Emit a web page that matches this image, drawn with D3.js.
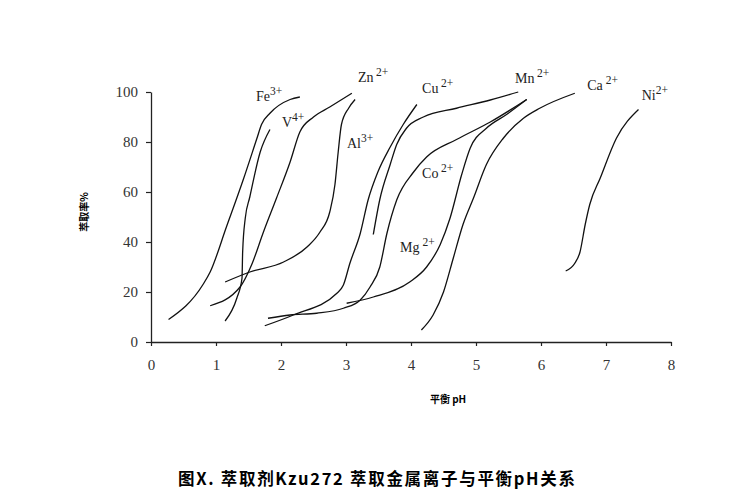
<!DOCTYPE html>
<html>
<head>
<meta charset="utf-8">
<script src="https://cdnjs.cloudflare.com/ajax/libs/d3/7.8.5/d3.min.js"></script>
<style>
  body { margin: 0; background: #fff; }
  svg { display: block; }
</style>
</head>
<body>
<script>
// curve data: equilibrium pH and extraction rate (%)
var phFe = [0.27, 0.80, 0.91, 1.16, 1.42, 1.63, 1.70, 1.83, 2.14, 2.29];
var rateFe = [9, 23, 28, 46, 65, 81.5, 87, 91.5, 97, 98];

var phV = [1.14, 1.32, 1.40, 1.41, 1.45, 1.52, 1.68, 1.83];
var rateV = [8.4, 17.5, 25.5, 36, 49.5, 58, 76, 85];

var phZn = [0.91, 1.37, 1.55, 1.73, 1.93, 2.14, 2.29, 2.50, 2.75, 3.09];
var rateZn = [14.5, 22, 31, 44, 57.5, 72, 84, 90, 94, 99.5];

var phAl = [1.14, 1.52, 2.04, 2.40, 2.60, 2.75, 2.83, 2.88, 2.93, 3.04, 3.14];
var rateAl = [24, 28, 32, 38, 44, 52, 63, 76, 87, 93.5, 97];

var phCu = [1.75, 2.19, 2.86, 2.96, 3.06, 3.22, 3.34, 3.49, 3.68, 3.88, 4.09];
var rateCu = [6.5, 10.8, 19.5, 22.8, 31.5, 43.5, 56.8, 68, 78, 87, 95];

var phMn = [3.42, 3.52, 3.68, 3.78, 3.93, 4.19, 4.70, 5.22, 5.65];
var rateMn = [43, 57, 71, 79, 85.5, 90, 93.5, 96.8, 100];

var phCo = [1.80, 2.14, 2.55, 2.96, 3.22, 3.37, 3.52, 3.63, 3.78, 4.04, 4.24, 4.70, 5.22, 5.78];
var rateCo = [9.5, 10.8, 11.5, 13.5, 16.8, 22, 30, 43.5, 56.8, 68, 74, 81, 88, 97];

var phMg = [3.01, 3.42, 3.98, 4.24, 4.45, 4.60, 4.78, 4.91, 5.16, 5.47, 5.78];
var rateMg = [15.5, 18, 24, 30, 39, 49.5, 67, 77.5, 85.5, 91, 97];

var phCa = [4.16, 4.34, 4.50, 4.65, 4.80, 4.96, 5.16, 5.42, 5.73, 5.98, 6.52];
var rateCa = [4.8, 10.8, 20, 33.5, 47, 57.5, 71, 81.5, 89.5, 93.5, 99.5];

var phNi = [6.38, 6.52, 6.60, 6.68, 6.75, 6.91, 7.16, 7.50];
var rateNi = [28.4, 31.5, 36, 47, 55, 65.5, 81.5, 93];

var xTicks = [0, 1, 2, 3, 4, 5, 6, 7, 8];
var yTicks = [0, 20, 40, 60, 80, 100];

var series = [
  { ion: 'Fe', charge: '3+', ph: phFe, rate: rateFe },
  { ion: 'V', charge: '4+', ph: phV, rate: rateV },
  { ion: 'Zn', charge: '2+', ph: phZn, rate: rateZn },
  { ion: 'Al', charge: '3+', ph: phAl, rate: rateAl },
  { ion: 'Cu', charge: '2+', ph: phCu, rate: rateCu },
  { ion: 'Mn', charge: '2+', ph: phMn, rate: rateMn },
  { ion: 'Co', charge: '2+', ph: phCo, rate: rateCo },
  { ion: 'Mg', charge: '2+', ph: phMg, rate: rateMg },
  { ion: 'Ca', charge: '2+', ph: phCa, rate: rateCa },
  { ion: 'Ni', charge: '2+', ph: phNi, rate: rateNi }
];

// where each ion label sits (pH, rate of baseline start) and gap before the charge
var labelSpots = {
  Fe: [1.615, 96.4, 0], V: [2.015, 86, 0], Zn: [3.185, 104, 2.5], Al: [3.015, 77.6, 0],
  Cu: [4.17, 99.6, 2.5], Mn: [5.6, 103.6, 2.5], Co: [4.17, 65.6, 2.5], Mg: [3.83, 36, 3],
  Ca: [6.71, 100.8, 3], Ni: [7.55, 96.8, 0]
};

var width = 744, height = 502;
var margin = { top: 92, left: 151, right: 73, bottom: 160 };

var svg = d3.select('body').append('svg')
  .attr('width', width).attr('height', height);

var x = d3.scaleLinear().domain([0, 8]).range([margin.left, width - margin.right]);
var y = d3.scaleLinear().domain([0, 100]).range([height - margin.bottom, margin.top]);

var serif = '"Liberation Serif", "Times New Roman", serif';

// axes
var xAxis = svg.append('g')
  .attr('transform', 'translate(0,' + y(0) + ')')
  .call(d3.axisBottom(x).tickValues(xTicks).tickSize(4).tickSizeOuter(0).tickPadding(13));

var yAxis = svg.append('g')
  .attr('transform', 'translate(' + x(0) + ',0)')
  .call(d3.axisLeft(y).tickValues(yTicks).tickSize(5).tickSizeOuter(0).tickPadding(8));

[xAxis, yAxis].forEach(function (g) {
  g.select('.domain').attr('stroke', '#222').attr('stroke-width', 1.3);
  g.selectAll('.tick line').attr('stroke', '#222').attr('stroke-width', 1.2);
  g.selectAll('.tick text')
    .attr('font-family', serif).attr('font-size', 15).attr('fill', '#333');
});

// curves
var line = d3.line()
  .x(function (d) { return x(d[0]); })
  .y(function (d) { return y(d[1]); })
  .curve(d3.curveMonotoneX);

svg.append('g').selectAll('path')
  .data(series)
  .enter()
  .append('path')
  .attr('d', function (s) {
    return line(s.ph.map(function (p, i) { return [p, s.rate[i]]; }));
  })
  .attr('fill', 'none')
  .attr('stroke', '#111')
  .attr('stroke-width', 1.3);

// ion labels
var labels = svg.append('g').selectAll('text')
  .data(series)
  .enter()
  .append('text')
  .attr('x', function (s) { return x(labelSpots[s.ion][0]); })
  .attr('y', function (s) { return y(labelSpots[s.ion][1]); })
  .attr('font-family', serif)
  .attr('font-size', 14)
  .attr('fill', '#222');

labels.append('tspan').text(function (s) { return s.ion; });
labels.append('tspan')
  .attr('dx', function (s) { return labelSpots[s.ion][2]; })
  .attr('dy', -6)
  .attr('font-size', 11.5)
  .text(function (s) { return s.charge; });

// axis titles
svg.append('text')
  .attr('transform', 'translate(88,' + y(52) + ') rotate(-90)')
  .attr('text-anchor', 'middle')
  .attr('font-family', '"Noto Sans CJK SC", sans-serif')
  .attr('font-weight', 'bold')
  .attr('font-size', 10)
  .text('萃取率%');

svg.append('text')
  .attr('x', x(4.57))
  .attr('y', 403)
  .attr('text-anchor', 'middle')
  .attr('font-family', '"Noto Sans CJK SC", sans-serif')
  .attr('font-weight', 'bold')
  .attr('font-size', 10)
  .text('平衡 pH');

// figure caption
svg.append('text')
  .attr('x', 178)
  .attr('y', 485)
  .attr('textLength', 397)
  .attr('lengthAdjust', 'spacing')
  .attr('font-family', '"Noto Sans CJK SC", sans-serif')
  .attr('font-weight', 'bold')
  .attr('font-size', 16.5)
  .text('图X.  萃取剂Kzu272 萃取金属离子与平衡pH关系');
</script>
</body>
</html>
